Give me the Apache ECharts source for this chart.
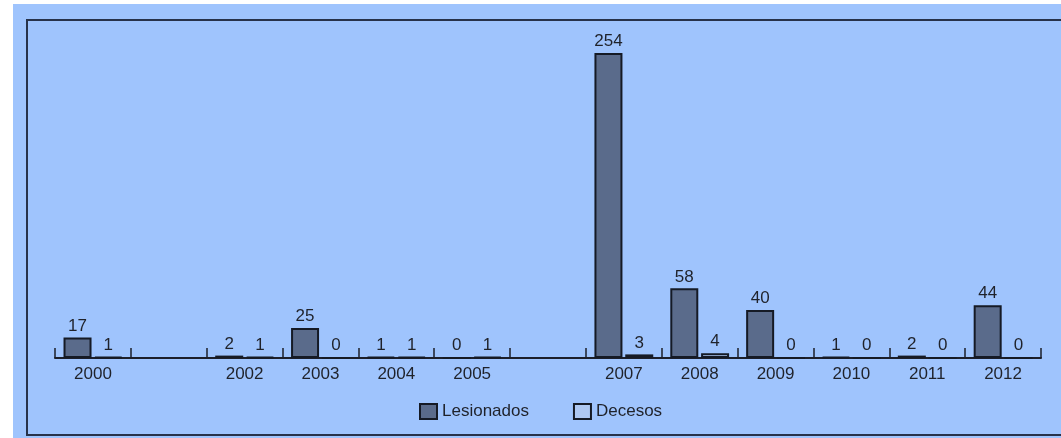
<!DOCTYPE html>
<html>
<head>
<meta charset="utf-8">
<script src="https://cdn.jsdelivr.net/npm/echarts@6/dist/echarts.min.js"></script>
<style>
html,body{margin:0;padding:0;background:#ffffff;}
#c{width:1061px;height:438px;}
</style>
</head>
<body>
<div id="c"></div>
<script>
var years = ['2000','2001','2002','2003','2004','2005','2006','2007','2008','2009','2010','2011','2012'];
var tickLabels = ['2000','','2002','2003','2004','2005','','2007','2008','2009','2010','2011','2012'];
var lesionados = [17, null, 2, 25, 1, 0, null, 254, 58, 40, 1, 2, 44];
var decesos = [1, null, 1, 0, 1, 1, null, 3, 4, 0, 0, 0, 0];

var FONT = '"Liberation Sans", "DejaVu Sans", sans-serif';
var TXT = '#1f222a';
var chart = echarts.init(document.getElementById('c'), null, {renderer: 'canvas'});
var labelStyle = {show: true, position: 'top', distance: 3, color: TXT, fontFamily: FONT, fontSize: 17};
chart.setOption({
  backgroundColor: '#ffffff',
  animation: false,
  graphic: [
    {type: 'rect', z: -10, shape: {x: 13, y: 4, width: 1060, height: 440}, style: {fill: '#9fc4fd'}},
    {type: 'rect', z: -9, shape: {x: 27, y: 20, width: 1100, height: 415}, style: {fill: 'none', stroke: '#27324a', lineWidth: 2}}
  ],
  grid: {left: 55, right: 20, top: 53, bottom: 80, containLabel: false},
  legend: {
    left: 419, top: 403, padding: 0,
    itemWidth: 17, itemHeight: 15, itemGap: 44,
    textStyle: {color: TXT, fontFamily: FONT, fontSize: 17, padding: [0, 0, 0, 0]},
    data: [
      {name: 'Lesionados', icon: 'rect', itemStyle: {color: '#5a6b8b', borderColor: '#151a25', borderWidth: 2}},
      {name: 'Decesos', icon: 'rect', itemStyle: {color: '#aec8f2', borderColor: '#151a25', borderWidth: 2}}
    ]
  },
  xAxis: {
    type: 'category',
    data: years,
    boundaryGap: true,
    axisLine: {show: true, lineStyle: {color: '#1c1f2a', width: 2}},
    axisTick: {show: true, inside: true, length: 10, alignWithLabel: false, lineStyle: {color: '#1c1f2a', width: 1.5}},
    axisLabel: {
      margin: 8, color: TXT, fontFamily: FONT, fontSize: 17, interval: 0,
      formatter: function (v, i) { return tickLabels[i]; }
    },
    splitLine: {show: false}
  },
  yAxis: {
    type: 'value', min: 0, max: 254,
    show: false,
    splitLine: {show: false}
  },
  series: [
    {
      name: 'Lesionados', type: 'bar', data: lesionados,
      barWidth: 28, barGap: '10%',
      itemStyle: {color: '#5a6b8b', borderColor: '#151a25', borderWidth: 2},
      label: labelStyle
    },
    {
      name: 'Decesos', type: 'bar', data: decesos,
      barWidth: 28,
      itemStyle: {color: '#aec8f2', borderColor: '#151a25', borderWidth: 2},
      label: labelStyle
    }
  ]
});
</script>
</body>
</html>
